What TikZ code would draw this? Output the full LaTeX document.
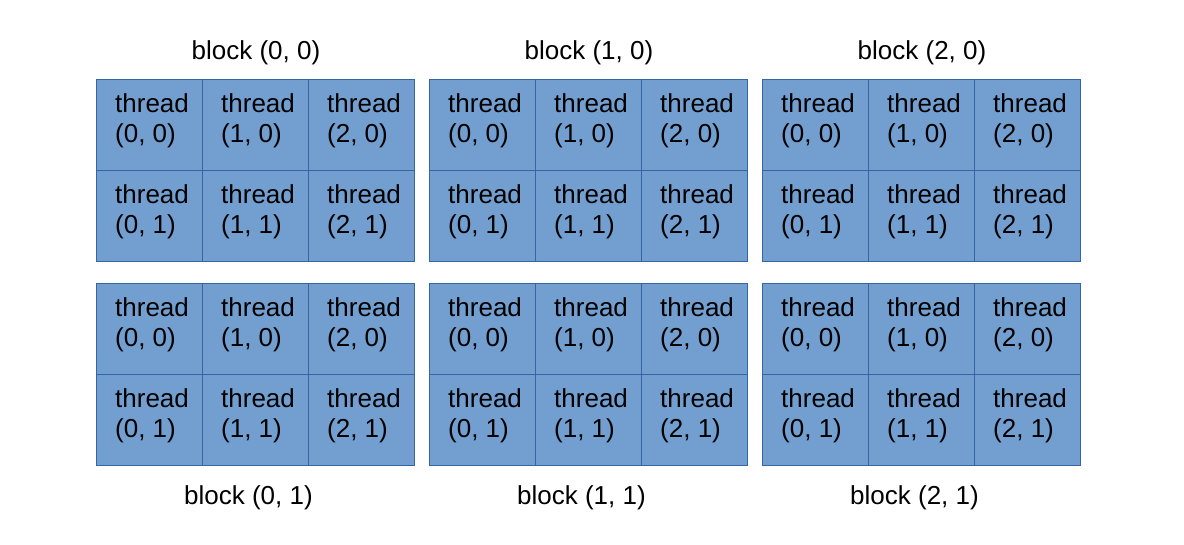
\documentclass[tikz,border=0pt]{standalone}
\usepackage{fontspec}
\setmainfont{Liberation Sans}
\definecolor{cellfill}{HTML}{729FCF}
\definecolor{cellline}{HTML}{3465A4}
\begin{document}
\begin{tikzpicture}[x=1pt,y=1pt,
  cell/.style={draw=cellline, fill=cellfill, line width=0.9pt, minimum width=106pt, minimum height=91pt, inner sep=0pt, outer sep=0pt},
  ttext/.style={anchor=north west, inner sep=0pt, align=left, font=\fontsize{26}{30}\selectfont},
  blabel/.style={anchor=base, inner sep=0pt, font=\fontsize{26}{30}\selectfont}]
\useasboundingbox (0,0) rectangle (1184,-544);
\foreach \bx in {0,1,2}{
  \foreach \by in {0,1}{
    \foreach \c in {0,1,2}{
      \foreach \r in {0,1}{
        \node[cell] (c-\bx-\by-\c-\r) at ({96+333*\bx+106*\c+53},{-(79+204*\by+91*\r+45.5)}) {};
        \node[ttext] (t-\bx-\by-\c-\r) at ([shift={(19,-14)}]c-\bx-\by-\c-\r.north west) {thread\\(\c, \r)};
      }
    }
  }
  \node[blabel] (top-\bx) at ({96+333*\bx+159+1},-59) {block (\bx, 0)};
  \node[blabel] (bot-\bx) at ({96+333*\bx+159-6.5},-504) {block (\bx, 1)};
}
\end{tikzpicture}
\end{document}
